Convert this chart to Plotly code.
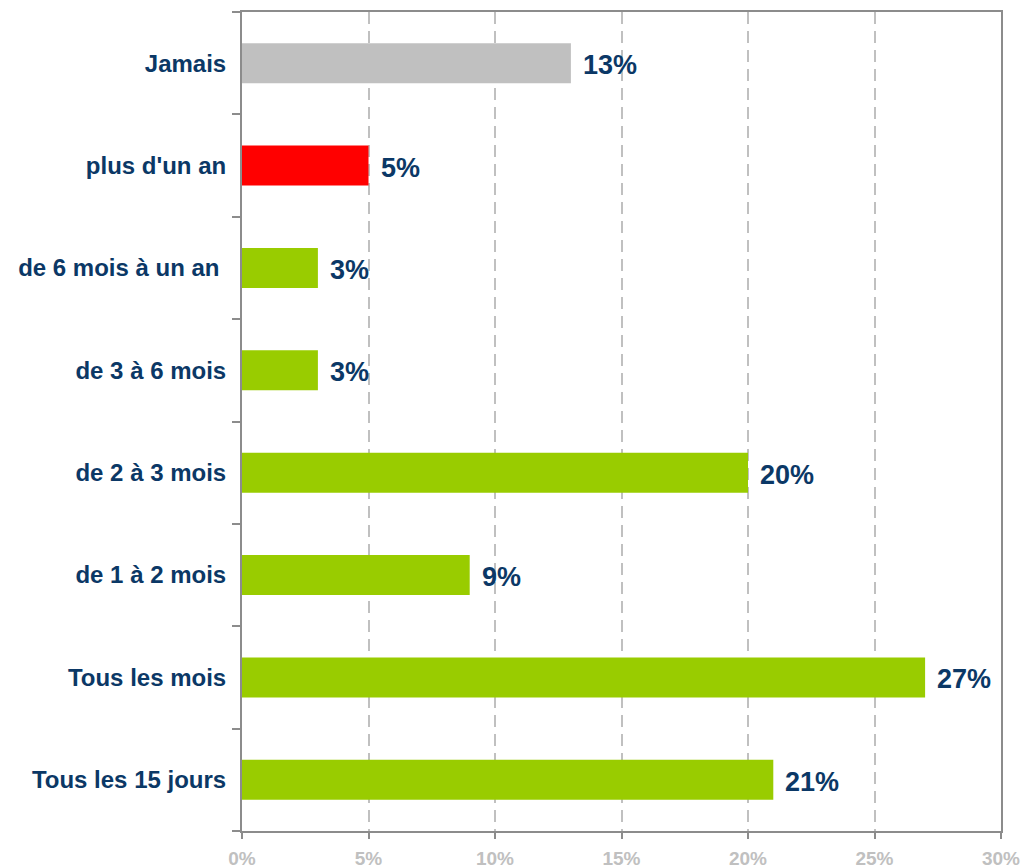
import plotly.graph_objects as go

# Categories listed from bottom to top
categories = [
    "Tous les 15 jours",
    "Tous les mois",
    "de 1 à 2 mois",
    "de 2 à 3 mois",
    "de 3 à 6 mois",
    "de 6 mois à un an ",
    "plus d'un an",
    "Jamais",
]
values = [21, 27, 9, 20, 3, 3, 5, 13]
bar_colors = ["#99cc00", "#99cc00", "#99cc00", "#99cc00", "#99cc00", "#99cc00", "#ff0000", "#c0c0c0"]
x_ticks = [0, 5, 10, 15, 20, 25, 30]

label_color = "#0b3866"
axis_gray = "#8c8c8c"
grid_gray = "#c0c0c0"
font_family = "Liberation Sans, Arial, sans-serif"

fig = go.Figure(
    go.Bar(
        x=values,
        y=categories,
        orientation="h",
        width=0.39,
        marker=dict(color=bar_colors, line=dict(width=0)),
        hoverinfo="x+y",
    )
)

# Value labels to the right of each bar
for cat, v in zip(categories, values):
    fig.add_annotation(
        x=v,
        y=cat,
        xref="x",
        yref="y",
        text=f"{v}%",
        showarrow=False,
        xanchor="left",
        yanchor="middle",
        xshift=10,
        yshift=-2,
        font=dict(family=font_family, size=27, color=label_color, weight="bold"),
    )

fig.update_layout(
    width=1026,
    height=868,
    margin=dict(l=242, r=25, t=12, b=37),
    paper_bgcolor="white",
    plot_bgcolor="white",
    showlegend=False,
    font=dict(family=font_family),
)

fig.update_xaxes(
    range=[0, 30],
    tickvals=x_ticks,
    ticktext=[f"{t}%" for t in x_ticks],
    tickfont=dict(family=font_family, size=19, color="#c0c0c0", weight="bold"),
    showgrid=True,
    gridcolor=grid_gray,
    gridwidth=2,
    griddash="12px,7px",
    zeroline=False,
    showline=True,
    linecolor=axis_gray,
    linewidth=2,
    mirror=True,
    ticks="outside",
    ticklen=6,
    tickwidth=2,
    tickcolor=axis_gray,
    ticklabelstandoff=3,
    automargin=False,
    fixedrange=True,
)

fig.update_yaxes(
    categoryorder="array",
    categoryarray=categories,
    tickfont=dict(family=font_family, size=24, color=label_color, weight="bold"),
    showgrid=False,
    zeroline=False,
    showline=True,
    linecolor=axis_gray,
    linewidth=2,
    mirror=True,
    ticks="outside",
    tickson="boundaries",
    ticklen=8,
    tickwidth=2,
    tickcolor=axis_gray,
    ticklabelstandoff=9,
    automargin=False,
    fixedrange=True,
)

fig.write_html("out.html")
